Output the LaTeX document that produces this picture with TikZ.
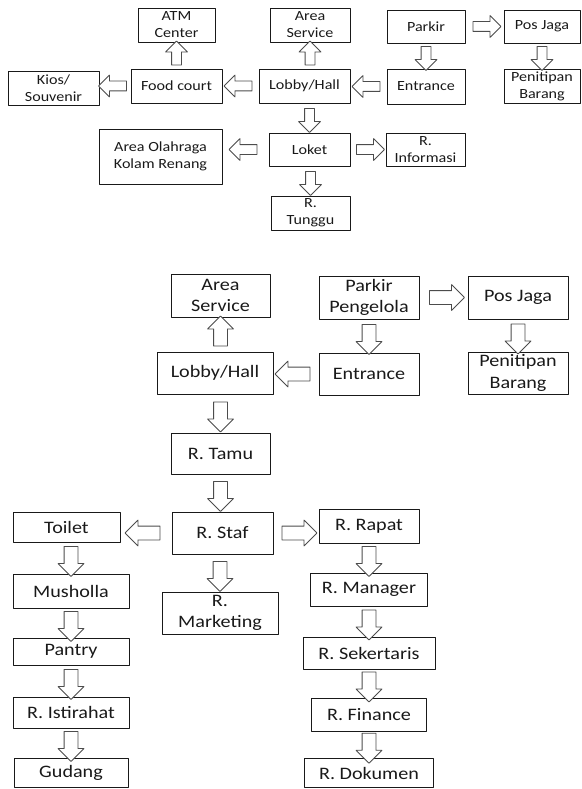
\documentclass[tikz,border=0pt]{standalone}
\usepackage{fontspec}
\setmainfont{Carlito}[FakeStretch=1.15]
\usetikzlibrary{calc,shapes.arrows}

\tikzset{
  box/.style={draw=black!90, line width=0.9pt, align=center, inner sep=0pt, text=black!90},
  fatarr/.style={single arrow, draw=gray!60!black, line width=0.8pt, fill=white,
    inner sep=0pt, minimum width=1pt, single arrow head indent=0pt, single arrow tip angle=90},
  topscale/.style={box/.append style={font=\fontsize{14}{17}\selectfont},
    fatarr/.append style={inner ysep=4.5pt, single arrow head extend=6pt},
    varr/.style={minimum height=24pt}, harr/.style={minimum height=28pt}},
  lowscale/.style={box/.append style={font=\fontsize{17.5}{21.5}\selectfont},
    fatarr/.append style={inner ysep=6.5pt, single arrow head extend=6pt},
    varr/.style={minimum height=30pt}, harr/.style={minimum height=35pt}}
}

% outline block arrow from one node border to another
\newcommand{\fatarrow}[3][varr]{%
  \path let \p1=(#2), \p2=(#3), \n1={atan2(\y2-\y1,\x2-\x1)} in
    node[fatarr, #1, rotate=\n1] at ($(\p1)!0.5!(\p2)$) {};
}

\begin{document}
\begin{tikzpicture}[x=1pt, y=-1pt, line join=round]

\useasboundingbox (0,0) rectangle (581,789);

% visitor flow
\begin{scope}[topscale]
\node[box, minimum width=77, minimum height=34] (atm) at (176.5,25) {ATM\\Center};
\node[box, minimum width=91, minimum height=34] (kios) at (53.5,88) {Kios/\\Souvenir};
\node[box, minimum width=91, minimum height=34] (food) at (176.5,86) {Food court};
\node[box, minimum width=123, minimum height=55] (olah) at (160.5,156.5) {Area Olahraga\\Kolam Renang};
\node[box, minimum width=91, minimum height=34] (lobby) at (304.5,86) {Lobby/Hall};
\node[box, minimum width=80, minimum height=34] (aserv) at (310,25) {Area\\Service};
\node[box, minimum width=81, minimum height=33] (loket) at (309.5,149.5) {Loket};
\node[box, minimum width=79, minimum height=34] (tunggu) at (310.5,213) {R.\\Tunggu};
\node[box, minimum width=78, minimum height=35] (entr) at (426,86.5) {Entrance};
\node[box, minimum width=78, minimum height=33] (parkir) at (426,26.5) {Parkir};
\node[box, minimum width=76, minimum height=33] (posjaga) at (542,26.5) {Pos Jaga};
\node[box, minimum width=76, minimum height=34] (penit) at (542,86) {Penitipan\\Barang};
\node[box, minimum width=79, minimum height=33] (info) at (425.5,149.5) {R.\\Informasi};

\fatarrow{food.north}{atm.south}
\fatarrow[harr]{food.west}{kios.east |- food.west}
\fatarrow[harr]{lobby.west}{food.east}
\fatarrow{lobby.north -| aserv}{aserv.south}
\fatarrow{lobby.south -| loket}{loket.north}
\fatarrow[harr]{loket.west}{olah.east |- loket.west}
\fatarrow[harr]{loket.east}{info.west}
\fatarrow{loket.south -| tunggu}{tunggu.north}
\fatarrow[harr]{entr.west}{lobby.east |- entr.west}
\fatarrow{parkir.south}{entr.north}
\fatarrow[harr]{parkir.east}{posjaga.west}
\fatarrow{posjaga.south}{penit.north}
\end{scope}

% staff flow
\begin{scope}[lowscale]
\node[box, minimum width=99, minimum height=43] (aservb) at (220.5,295.5) {Area\\Service};
\node[box, minimum width=116, minimum height=42] (lobbyb) at (215,373) {Lobby/Hall};
\node[box, minimum width=99, minimum height=41] (tamu) at (220.5,453.5) {R. Tamu};
\node[box, minimum width=100, minimum height=43] (parkirb) at (369,297.5) {Parkir\\Pengelola};
\node[box, minimum width=100, minimum height=43] (posjagab) at (518,297.5) {Pos Jaga};
\node[box, minimum width=100, minimum height=42] (entrb) at (369,374) {Entrance};
\node[box, minimum width=100, minimum height=42] (penitb) at (518,373) {Penitipan\\Barang};
\node[box, minimum width=101, minimum height=42] (staf) at (222.5,533) {R. Staf};
\node[box, minimum width=116, minimum height=42] (marketing) at (220,613) {R.\\Marketing};
\node[box, minimum width=107, minimum height=30] (toilet) at (66.5,527) {Toilet};
\node[box, minimum width=116, minimum height=34] (musholla) at (71,591) {Musholla};
\node[box, minimum width=116, minimum height=27] (pantry) at (71,651.5) {Pantry};
\node[box, minimum width=116, minimum height=31] (istirahat) at (71,712.5) {R. Istirahat};
\node[box, minimum width=114, minimum height=29] (gudang) at (71,772.5) {Gudang};
\node[box, minimum width=100, minimum height=34] (rapat) at (369,526) {R. Rapat};
\node[box, minimum width=117, minimum height=33] (manager) at (369,589.5) {R. Manager};
\node[box, minimum width=132, minimum height=32] (sekert) at (369,653) {R. Sekertaris};
\node[box, minimum width=115, minimum height=33] (finance) at (369,714.5) {R. Finance};
\node[box, minimum width=129, minimum height=29] (dokumen) at (369,773) {R. Dokumen};

\fatarrow{lobbyb.north -| aservb}{aservb.south}
\fatarrow{lobbyb.south -| tamu}{tamu.north}
\fatarrow[harr]{entrb.west}{lobbyb.east |- entrb.west}
\fatarrow{parkirb.south}{entrb.north}
\fatarrow[harr]{parkirb.east}{posjagab.west}
\fatarrow{posjagab.south}{penitb.north}
\fatarrow{tamu.south}{staf.north -| tamu}
\fatarrow[harr]{staf.west}{toilet.east |- staf.west}
\fatarrow[harr]{staf.east}{rapat.west |- staf.east}
\fatarrow{staf.south -| marketing}{marketing.north}
\fatarrow{toilet.south -| musholla}{musholla.north}
\fatarrow{musholla.south}{pantry.north}
\fatarrow{pantry.south}{istirahat.north}
\fatarrow{istirahat.south}{gudang.north}
\fatarrow{rapat.south}{manager.north}
\fatarrow{manager.south}{sekert.north}
\fatarrow{sekert.south}{finance.north}
\fatarrow{finance.south}{dokumen.north}
\end{scope}

\end{tikzpicture}
\end{document}
